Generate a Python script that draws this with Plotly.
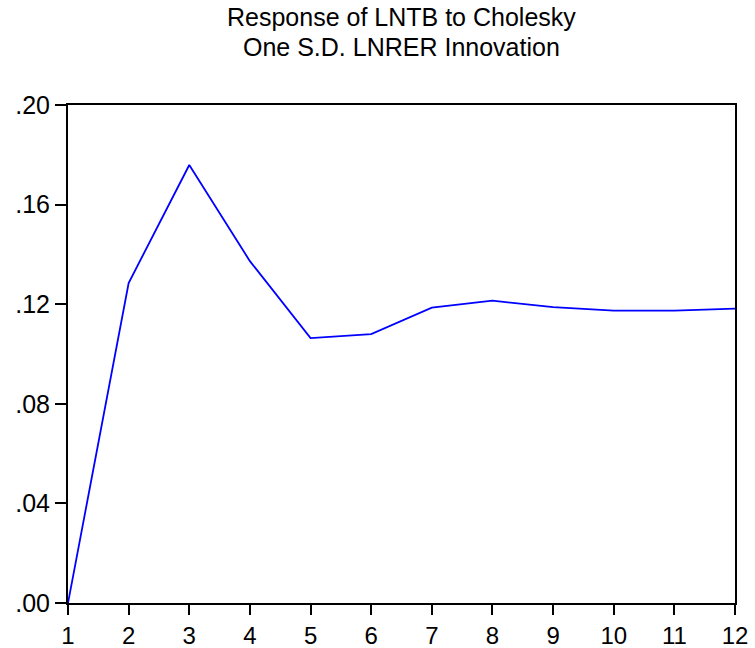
import plotly.graph_objects as go

periods = list(range(1, 13))
response = [0.0, 0.1285, 0.1759, 0.1373, 0.1064, 0.1080, 0.1186, 0.1214, 0.1188, 0.1174, 0.1174, 0.1182]
y_tick_vals = [0.0, 0.04, 0.08, 0.12, 0.16, 0.20]
y_tick_text = [".00", ".04", ".08", ".12", ".16", ".20"]
title_lines = ["Response of LNTB to Cholesky", "One S.D. LNRER Innovation"]

fig = go.Figure()
fig.add_trace(go.Scatter(x=periods, y=response, mode="lines",
                         line=dict(color="#0000FF", width=1.8), showlegend=False))

font = dict(family="Liberation Sans, Arial, sans-serif", size=25, color="black")
xfont = dict(family="Liberation Sans, Arial, sans-serif", size=24, color="black")
fig.update_layout(
    width=755, height=648,
    margin=dict(l=68, r=20, t=105, b=45),
    paper_bgcolor="white", plot_bgcolor="white",
    font=font,
    showlegend=False,
)
fig.update_xaxes(range=[1, 12], tickvals=periods, ticktext=[str(p) for p in periods],
                 ticks="outside", ticklen=10, tickwidth=2, tickcolor="black",
                 showline=True, linecolor="black", linewidth=2, mirror=True,
                 showgrid=False, zeroline=False, tickfont=xfont, automargin=False)
fig.update_yaxes(range=[0, 0.20], tickvals=y_tick_vals, ticktext=y_tick_text,
                 ticks="outside", ticklen=11, tickwidth=2, tickcolor="black",
                 showline=True, linecolor="black", linewidth=2, mirror=True,
                 showgrid=False, zeroline=False, tickfont=font, automargin=False)

fig.add_annotation(text=title_lines[0], xref="paper", yref="paper", x=0.5, y=1.0,
                   yshift=88, showarrow=False, font=font, xanchor="center", yanchor="middle")
fig.add_annotation(text=title_lines[1], xref="paper", yref="paper", x=0.5, y=1.0,
                   yshift=58, showarrow=False, font=font, xanchor="center", yanchor="middle")

fig.write_html("out.html", config={"displayModeBar": False},
               post_script="document.body.style.margin='0';document.body.style.padding='0';")
